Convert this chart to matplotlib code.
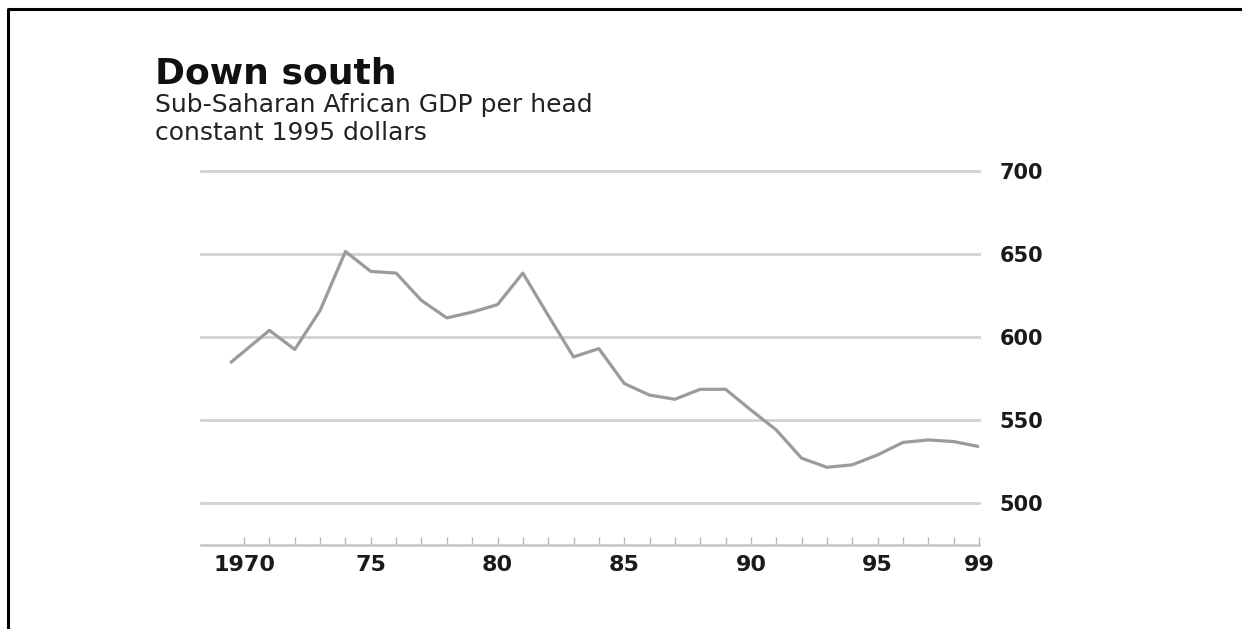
import matplotlib.pyplot as plt
from matplotlib.lines import Line2D

# Sub-Saharan African GDP per head, constant 1995 dollars
years = [1969.5, 1971, 1972, 1973, 1974, 1975, 1976, 1977, 1978, 1979,
         1980, 1981, 1982, 1983, 1984, 1985, 1986, 1987, 1988, 1989,
         1990, 1991, 1992, 1993, 1994, 1995, 1996, 1997, 1998, 1999]
gdp = [585, 604, 592.5, 616, 651.5, 639.5, 638.5, 622, 611.5, 615,
       619.5, 638.5, 613, 588, 593, 572, 565, 562.5, 568.5, 568.5,
       556, 544, 527, 521.5, 523, 529, 536.5, 538, 537, 534]

y_ticks = [500, 550, 600, 650, 700]
x_ticks = [1970, 1975, 1980, 1985, 1990, 1995, 1999]
x_labels = ['1970', '75', '80', '85', '90', '95', '99']

plt.rcParams['font.family'] = ['DejaVu Sans']

fig = plt.figure(figsize=(12.42, 6.29), dpi=100)
ax = fig.add_axes([201 / 1242, 1 - 545 / 629, 778 / 1242, (545 - 171) / 629])

for v in y_ticks:
    ax.axhline(v, color='#d2d2d2', lw=2, zorder=1, clip_on=False)

ax.plot(years, gdp, color='#9b9b9b', lw=2.3, zorder=3, solid_joinstyle='round')

ax.set_xlim(1968.3, 1999)
ax.set_ylim(474.7, 700)

for s in ['top', 'left', 'right']:
    ax.spines[s].set_visible(False)
ax.spines['bottom'].set_color('#c4c4c4')
ax.spines['bottom'].set_linewidth(1.8)

ax.set_xticks(x_ticks)
ax.set_xticklabels(x_labels, fontsize=16, fontweight='bold', color='#1a1a1a')
ax.set_xticks(range(1970, 2000), minor=True)
ax.tick_params(axis='x', which='both', direction='in', length=6, width=1,
               color='#b8b8b8', pad=7)

ax.yaxis.tick_right()
ax.set_yticks(y_ticks)
ax.set_yticklabels([str(v) for v in y_ticks], fontsize=15, fontweight='bold',
                   color='#1a1a1a')
ax.tick_params(axis='y', length=0, pad=15)

fig.text(155 / 1242, 1 - 83 / 629, 'Down south', fontsize=26, fontweight='bold',
         va='baseline', ha='left', color='#111111')
fig.text(155 / 1242, 1 - 112 / 629, 'Sub-Saharan African GDP per head',
         fontsize=18, va='baseline', ha='left', color='#222222')
fig.text(155 / 1242, 1 - 140 / 629, 'constant 1995 dollars',
         fontsize=18, va='baseline', ha='left', color='#222222')

# frame: top and left edges only
fig.add_artist(Line2D([8 / 1242, 8 / 1242, 1],
                      [0, 1 - 9 / 629, 1 - 9 / 629],
                      transform=fig.transFigure, color='black', lw=2.2))

fig.savefig('out.png', dpi=100)
